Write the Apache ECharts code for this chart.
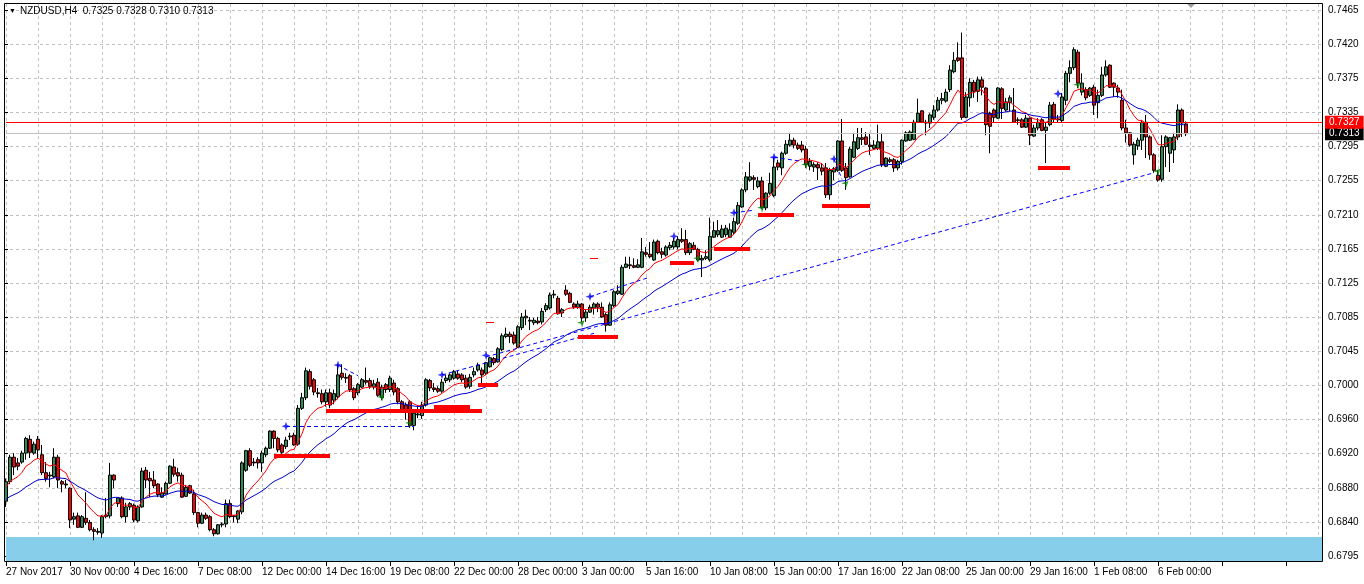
<!DOCTYPE html>
<html>
<head>
<meta charset="utf-8">
<title>NZDUSD,H4</title>
<script src="https://cdn.jsdelivr.net/npm/echarts@6.0.0/dist/echarts.min.js"></script>
<style>
  html, body { margin: 0; padding: 0; background: #fff; }
  #chart { width: 1364px; height: 584px; }
</style>
</head>
<body>
<div id="chart"></div>
<script>
// NZDUSD H4 bars, 27 Nov 2017 08:00 -> 7 Feb 2018 04:00 (one entry per bar)
var openPrices = [
  .6862,.6886,.6916,.6909,.6910,.6921,.6938,.6921,.6938,.6919,
  .6897,.6893,.6892,.6916,.6886,.6883,.6878,.6840,.6844,.6830,
  .6841,.6836,.6827,.6825,.6823,.6843,.6844,.6894,.6859,.6866,
  .6843,.6855,.6857,.6838,.6855,.6900,.6890,.6888,.6883,.6867,
  .6871,.6884,.6904,.6897,.6894,.6868,.6881,.6871,.6848,.6835,
  .6845,.6843,.6827,.6822,.6833,.6834,.6859,.6844,.6840,.6849,
  .6900,.6924,.6910,.6913,.6909,.6919,.6927,.6948,.6939,.6931,
  .6929,.6941,.6943,.6932,.6976,.6989,.7021,.7011,.6995,.6994,
  .6984,.6995,.6986,.6990,.7019,.7014,.7016,.7000,.6995,.7002,
  .7010,.7010,.7002,.7008,.6989,.7005,.6999,.7007,.7000,.6984,
  .6980,.6984,.6955,.6968,.6967,.6980,.7010,.7001,.7000,.6997,
  .7010,.7011,.7013,.7018,.7017,.7013,.7003,.7017,.7023,.7023,
  .7019,.7027,.7037,.7033,.7048,.7064,.7067,.7066,.7051,.7075,
  .7087,.7084,.7081,.7083,.7082,.7097,.7099,.7115,.7111,.7093,
  .7121,.7117,.7104,.7100,.7104,.7087,.7094,.7099,.7104,.7100,
  .7091,.7078,.7102,.7117,.7116,.7149,.7152,.7151,.7149,.7149,
  .7167,.7165,.7158,.7181,.7168,.7164,.7173,.7174,.7174,.7183,
  .7183,.7167,.7176,.7171,.7158,.7160,.7158,.7186,.7189,.7186,
  .7189,.7186,.7192,.7203,.7223,.7244,.7256,.7259,.7248,.7255,
  .7222,.7240,.7237,.7277,.7271,.7289,.7299,.7305,.7299,.7299,
  .7294,.7273,.7272,.7275,.7271,.7271,.7238,.7266,.7268,.7304,
  .7271,.7260,.7284,.7295,.7308,.7309,.7299,.7295,.7295,.7303,
  .7273,.7281,.7281,.7271,.7279,.7304,.7305,.7306,.7327,.7341,
  .7327,.7326,.7333,.7342,.7354,.7353,.7367,.7389,.7406,.7406,
  .7333,.7357,.7376,.7365,.7379,.7369,.7338,.7342,.7332,.7368,
  .7342,.7351,.7342,.7330,.7330,.7321,.7332,.7310,.7320,.7330,
  .7317,.7324,.7349,.7331,.7329,.7354,.7387,.7394,.7413,.7364,
  .7367,.7360,.7370,.7351,.7360,.7385,.7397,.7375,.7369,.7354,
  .7320,.7314,.7287,.7298,.7305,.7327,.7309,.7287,.7262,.7257,
  .7297,.7289,.7293,.7309,.7342,.7325
];
var closePrices = [
  .6886,.6916,.6904,.6905,.6921,.6939,.6922,.6932,.6925,.6897,
  .6890,.6894,.6916,.6888,.6883,.6882,.6839,.6843,.6830,.6843,
  .6836,.6827,.6825,.6824,.6843,.6845,.6894,.6888,.6866,.6843,
  .6855,.6859,.6839,.6855,.6899,.6888,.6887,.6881,.6870,.6872,
  .6884,.6905,.6895,.6893,.6867,.6879,.6872,.6848,.6835,.6845,
  .6841,.6827,.6822,.6833,.6834,.6859,.6843,.6843,.6850,.6909,
  .6924,.6906,.6909,.6909,.6921,.6927,.6948,.6939,.6925,.6922,
  .6937,.6942,.6931,.6976,.6989,.7022,.7003,.6996,.6994,.6984,
  .6995,.6980,.6994,.7017,.7014,.7013,.6999,.6989,.7005,.7011,
  .7008,.7003,.7006,.6992,.7002,.6999,.7013,.6996,.6984,.6974,
  .6974,.6955,.6970,.6969,.6980,.7011,.7001,.6999,.6997,.7008,
  .7013,.7017,.7021,.7013,.7011,.7002,.7014,.7021,.7029,.7017,
  .7032,.7038,.7032,.7049,.7065,.7067,.7064,.7056,.7076,.7088,
  .7089,.7083,.7084,.7081,.7095,.7102,.7115,.7116,.7092,.7097,
  .7116,.7106,.7100,.7104,.7087,.7094,.7100,.7104,.7100,.7088,
  .7078,.7103,.7119,.7120,.7149,.7153,.7151,.7149,.7152,.7168,
  .7165,.7162,.7180,.7167,.7165,.7174,.7176,.7181,.7183,.7181,
  .7167,.7178,.7171,.7158,.7160,.7162,.7187,.7194,.7194,.7196,
  .7197,.7195,.7205,.7225,.7244,.7260,.7260,.7257,.7255,.7222,
  .7240,.7252,.7272,.7272,.7289,.7300,.7305,.7299,.7295,.7293,
  .7275,.7279,.7275,.7271,.7267,.7238,.7268,.7270,.7304,.7268,
  .7259,.7294,.7303,.7308,.7306,.7300,.7297,.7299,.7303,.7275,
  .7283,.7279,.7271,.7279,.7305,.7314,.7315,.7327,.7338,.7327,
  .7326,.7336,.7342,.7354,.7356,.7364,.7391,.7403,.7403,.7333,
  .7358,.7376,.7365,.7379,.7370,.7324,.7322,.7333,.7369,.7344,
  .7352,.7357,.7327,.7329,.7321,.7332,.7311,.7320,.7327,.7317,
  .7321,.7348,.7331,.7330,.7358,.7387,.7394,.7416,.7375,.7375,
  .7357,.7369,.7348,.7360,.7385,.7395,.7370,.7370,.7364,.7320,
  .7314,.7299,.7300,.7305,.7327,.7309,.7287,.7268,.7256,.7297,
  .7309,.7308,.7309,.7342,.7326,.7313
];
var lowPrices = [
  .6855,.6883,.6894,.6900,.6908,.6913,.6915,.6919,.6915,.6894,
  .6886,.6879,.6890,.6878,.6873,.6878,.6829,.6833,.6829,.6829,
  .6833,.6825,.6814,.6821,.6817,.6841,.6841,.6878,.6855,.6841,
  .6836,.6851,.6836,.6836,.6854,.6878,.6867,.6878,.6867,.6866,
  .6870,.6883,.6892,.6886,.6866,.6867,.6871,.6845,.6830,.6834,
  .6839,.6825,.6819,.6821,.6830,.6830,.6841,.6836,.6835,.6846,
  .6898,.6904,.6905,.6902,.6898,.6916,.6926,.6927,.6922,.6920,
  .6926,.6937,.6930,.6930,.6974,.6986,.6999,.6992,.6989,.6981,
  .6978,.6976,.6981,.6987,.7011,.7007,.6996,.6986,.6992,.7001,
  .7005,.7000,.6999,.6990,.6986,.6995,.6996,.6992,.6981,.6971,
  .6962,.6952,.6949,.6964,.6963,.6978,.6997,.6996,.6995,.6995,
  .7007,.7008,.7011,.7011,.7008,.7000,.7000,.7014,.7021,.7005,
  .7017,.7026,.7029,.7032,.7046,.7062,.7056,.7054,.7050,.7072,
  .7078,.7072,.7078,.7079,.7079,.7094,.7097,.7111,.7091,.7088,
  .7114,.7105,.7098,.7098,.7082,.7082,.7093,.7091,.7094,.7087,
  .7070,.7077,.7100,.7115,.7115,.7148,.7147,.7148,.7148,.7148,
  .7162,.7160,.7157,.7165,.7160,.7162,.7170,.7171,.7171,.7179,
  .7164,.7164,.7170,.7156,.7137,.7158,.7156,.7185,.7186,.7185,
  .7186,.7185,.7190,.7201,.7222,.7241,.7254,.7244,.7246,.7221,
  .7219,.7238,.7235,.7268,.7262,.7287,.7297,.7295,.7293,.7290,
  .7271,.7268,.7266,.7256,.7262,.7234,.7232,.7256,.7266,.7266,
  .7244,.7259,.7283,.7293,.7299,.7299,.7287,.7293,.7293,.7272,
  .7272,.7277,.7266,.7268,.7275,.7303,.7304,.7305,.7326,.7326,
  .7311,.7320,.7330,.7340,.7349,.7351,.7364,.7387,.7401,.7330,
  .7332,.7346,.7357,.7352,.7360,.7311,.7289,.7327,.7331,.7331,
  .7340,.7340,.7326,.7324,.7320,.7320,.7299,.7309,.7317,.7316,
  .7277,.7322,.7327,.7327,.7327,.7348,.7376,.7391,.7369,.7360,
  .7354,.7358,.7336,.7332,.7358,.7383,.7369,.7358,.7357,.7317,
  .7302,.7297,.7275,.7293,.7293,.7283,.7281,.7265,.7254,.7254,
  .7272,.7266,.7277,.7305,.7309,.7310
];
var highPrices = [
  .6890,.6919,.6921,.6915,.6924,.6941,.6943,.6935,.6942,.6931,
  .6910,.6898,.6927,.6919,.6888,.6888,.6879,.6848,.6848,.6845,
  .6873,.6839,.6830,.6829,.6845,.6866,.6909,.6895,.6867,.6868,
  .6860,.6861,.6859,.6857,.6903,.6904,.6898,.6899,.6884,.6879,
  .6886,.6906,.6914,.6903,.6897,.6882,.6882,.6876,.6849,.6848,
  .6848,.6845,.6829,.6834,.6836,.6864,.6864,.6845,.6851,.6911,
  .6925,.6927,.6915,.6916,.6924,.6929,.6949,.6949,.6941,.6933,
  .6941,.6946,.6946,.6980,.6995,.7026,.7024,.7013,.7001,.6999,
  .6999,.7000,.6999,.7030,.7030,.7019,.7018,.7002,.7007,.7013,
  .7026,.7013,.7011,.7013,.7005,.7007,.7016,.7011,.7002,.6986,
  .6983,.6986,.6974,.6980,.6984,.7013,.7012,.7007,.7003,.7012,
  .7017,.7019,.7023,.7022,.7019,.7017,.7018,.7026,.7032,.7026,
  .7033,.7039,.7039,.7051,.7068,.7075,.7070,.7070,.7078,.7093,
  .7097,.7088,.7087,.7088,.7099,.7105,.7118,.7121,.7114,.7099,
  .7127,.7119,.7106,.7108,.7105,.7097,.7103,.7106,.7106,.7106,
  .7093,.7106,.7121,.7127,.7152,.7162,.7162,.7160,.7159,.7185,
  .7174,.7180,.7183,.7183,.7173,.7176,.7180,.7185,.7187,.7197,
  .7195,.7180,.7180,.7173,.7164,.7170,.7210,.7205,.7207,.7201,
  .7201,.7203,.7210,.7229,.7246,.7266,.7278,.7262,.7260,.7260,
  .7241,.7265,.7284,.7281,.7291,.7305,.7314,.7308,.7302,.7304,
  .7298,.7283,.7278,.7278,.7277,.7277,.7271,.7272,.7305,.7331,
  .7277,.7297,.7314,.7320,.7320,.7315,.7314,.7305,.7324,.7314,
  .7284,.7284,.7283,.7281,.7306,.7316,.7317,.7330,.7356,.7342,
  .7330,.7338,.7348,.7358,.7363,.7368,.7397,.7413,.7425,.7437,
  .7364,.7381,.7379,.7383,.7383,.7370,.7340,.7344,.7370,.7370,
  .7357,.7360,.7369,.7333,.7332,.7336,.7333,.7324,.7332,.7332,
  .7327,.7352,.7352,.7336,.7363,.7390,.7403,.7419,.7416,.7387,
  .7370,.7370,.7373,.7367,.7395,.7403,.7398,.7376,.7373,.7367,
  .7330,.7315,.7303,.7308,.7330,.7336,.7311,.7289,.7268,.7311,
  .7311,.7309,.7314,.7349,.7344,.7328
];

// time scale labels, one every 16 bars
var timeLabels = ['27 Nov 2017', '30 Nov 00:00', '4 Dec 16:00', '7 Dec 08:00', '12 Dec 00:00',
  '14 Dec 16:00', '19 Dec 08:00', '22 Dec 00:00', '28 Dec 00:00', '3 Jan 00:00', '5 Jan 16:00',
  '10 Jan 08:00', '15 Jan 00:00', '17 Jan 16:00', '22 Jan 08:00', '25 Jan 00:00', '29 Jan 16:00',
  '1 Feb 08:00', '6 Feb 00:00'];
// price scale labels, bottom to top
var priceLabels = ['0.6795', '0.6840', '0.6880', '0.6920', '0.6960', '0.7000', '0.7045', '0.7085',
  '0.7125', '0.7165', '0.7210', '0.7255', '0.7295', '0.7335', '0.7375', '0.7420', '0.7465'];

var askPrice = 0.7327, bidPrice = 0.7313;
var zoneTop = 0.6818;
// moving averages values at the first bar
var fastMaStart = 0.6878, slowMaStart = 0.6863;

// red support levels: [fromBar, toBar, price]
var levelSegments = [
  [67, 81, 0.6918], [80, 119, 0.6973], [107, 116, 0.6978], [118, 123, 0.7005],
  [143, 153, 0.7064], [166, 172, 0.7154], [177, 186, 0.7172], [188, 197, 0.7214],
  [204, 216, 0.7225], [258, 266, 0.7271]
];
var levelTicks = [[120, 122, 0.7081], [146, 148, 0.7160]];
// blue dotted trend lines: [fromBar, fromPrice, toBar, toPrice]
var trendLines = [
  [70, 0.6954, 102, 0.6954],
  [83, 0.7029, 88, 0.7016],
  [109, 0.7017, 147, 0.7068],
  [120, 0.7039, 287, 0.7265],
  [146, 0.7113, 161, 0.7137],
  [182, 0.7216, 187, 0.7219],
  [192, 0.7284, 199, 0.7279],
  [207, 0.7282, 209, 0.7257]
];
// blue fractal marks and green signal marks: [bar, price]
var fractalMarks = [[70, 0.6954], [83, 0.7029], [109, 0.7017], [120, 0.7041], [146, 0.7113],
  [167, 0.7187], [182, 0.7216], [192, 0.7284], [207, 0.7282], [263, 0.7362]];
var signalMarks = [[94, 0.6990], [101, 0.6958], [144, 0.7081], [173, 0.7160], [189, 0.7222],
  [200, 0.7275], [210, 0.7252], [268, 0.7373], [288, 0.7267]];

var chart = echarts.init(document.getElementById('chart'));

var slots = 330; // bars + empty shift on the right
var cats = [];
for (var i = 0; i < slots; i++) cats.push(i);

var candles = openPrices.map(function (o, i) {
  return [o, closePrices[i], lowPrices[i], highPrices[i]];
});

function ema(values, period, start) {
  var k = 2 / (period + 1), prev = start, out = [];
  for (var i = 0; i < values.length; i++) {
    prev = prev + k * (values[i] - prev);
    out.push(+prev.toFixed(5));
  }
  return out;
}
var fastMa = ema(closePrices, 10, fastMaStart);
var slowMa = ema(closePrices, 30, slowMaStart);

var priceTop = 0.74721, priceBottom = 0.67874;
var font = '"Liberation Sans", Arial, sans-serif';
var gridColor = '#c0c0c0';

var option = {
  animation: false,
  backgroundColor: '#fff',
  grid: [
    { left: 6, top: 4, width: 1316, height: 558 },
    { left: 4, top: 10, width: 1319, height: 546 }
  ],
  xAxis: [
    {
      type: 'category', gridIndex: 0, data: cats, boundaryGap: false,
      axisLine: { show: false },
      axisTick: { show: true, interval: 15, length: 4, lineStyle: { color: '#000' } },
      axisLabel: {
        interval: 15, align: 'left', margin: 5, fontSize: 10, color: '#000', fontFamily: font,
        formatter: function (v, idx) { return timeLabels[idx / 16] || ''; }
      },
      splitLine: { show: true, interval: 7, lineStyle: { color: gridColor, type: [3, 3] } }
    },
    { type: 'value', gridIndex: 1, min: 0, max: 1, show: false }
  ],
  yAxis: [
    { type: 'value', gridIndex: 0, min: priceBottom, max: priceTop, show: false },
    {
      type: 'value', gridIndex: 1, position: 'right', min: 0, max: 16, interval: 1,
      axisLine: { show: false },
      axisTick: { show: true, length: 4, lineStyle: { color: '#000' } },
      axisLabel: {
        margin: 5, fontSize: 10, color: '#000', fontFamily: font,
        formatter: function (v) { return priceLabels[v] || ''; }
      },
      splitLine: { show: true, lineStyle: { color: gridColor, type: [3, 3] } }
    }
  ],
  graphic: [
    { type: 'rect', silent: true, z: 50,
      shape: { x: 4.5, y: 3.5, width: 1318, height: 558 },
      style: { fill: null, stroke: '#000', lineWidth: 1 } },
    { type: 'polygon', silent: true, z: 50,
      shape: { points: [[1187, 4], [1195, 4], [1191, 8]] },
      style: { fill: '#a0a0a0' } },
    { type: 'text', silent: true, z: 50, left: 9, top: 8,
      style: { text: '\u25BC', fontSize: 7, fill: '#000', fontFamily: font } },
    { type: 'text', silent: true, z: 50, left: 20, top: 6,
      style: { text: 'NZDUSD,H4  0.7325 0.7328 0.7310 0.7313', fontSize: 10, fill: '#000', fontFamily: font } }
  ],
  series: [
    {
      type: 'candlestick', xAxisIndex: 0, yAxisIndex: 0, data: candles,
      barWidth: 3, clip: false, z: 2,
      itemStyle: {
        color: '#2e8b57', color0: '#ff0000',
        borderColor: '#000', borderColor0: '#000', borderColorDoji: '#000', borderWidth: 1
      },
      markArea: {
        silent: true,
        itemStyle: { color: '#87ceeb' },
        data: [[{ xAxis: 0, yAxis: zoneTop }, { xAxis: slots - 1, yAxis: priceBottom }]]
      }
    },
    {
      type: 'line', data: fastMa, symbol: 'none', smooth: false,
      lineStyle: { color: '#ff0000', width: 1 }, z: 3,
      markLine: {
        silent: true, symbol: ['none', 'none'], precision: 4,
        label: { show: true, position: 'end', distance: 3, color: '#fff', fontSize: 10,
          fontFamily: font, padding: [2, 4, 1, 4] },
        data: [
          { yAxis: bidPrice, lineStyle: { color: '#c0c0c0', type: 'solid', width: 1 },
            label: { formatter: bidPrice.toFixed(4), backgroundColor: '#000' } },
          { yAxis: askPrice, lineStyle: { color: '#ff0000', type: 'solid', width: 1 },
            label: { formatter: askPrice.toFixed(4), backgroundColor: '#ff0000' } }
        ]
      }
    },
    {
      type: 'line', data: slowMa, symbol: 'none', smooth: false,
      lineStyle: { color: '#0000cd', width: 1 }, z: 3
    },
    {
      type: 'lines', coordinateSystem: 'cartesian2d', z: 4,
      lineStyle: { color: '#0000ff', width: 1, type: [4, 3], opacity: 1 },
      data: trendLines.map(function (t) { return { coords: [[t[0], t[1]], [t[2], t[3]]] }; })
    },
    {
      type: 'lines', coordinateSystem: 'cartesian2d', z: 4,
      lineStyle: { color: '#ff0000', width: 4, opacity: 1 },
      data: levelSegments.map(function (s) { return { coords: [[s[0], s[2]], [s[1], s[2]]] }; })
    },
    {
      type: 'lines', coordinateSystem: 'cartesian2d', z: 4,
      lineStyle: { color: '#ff0000', width: 1, opacity: 1 },
      data: levelTicks.map(function (s) { return { coords: [[s[0], s[2]], [s[1], s[2]]] }; })
    },
    {
      type: 'scatter', data: fractalMarks, z: 5,
      symbol: 'path://M5,0 L6.3,3.7 L10,5 L6.3,6.3 L5,10 L3.7,6.3 L0,5 L3.7,3.7 Z',
      symbolSize: 9, itemStyle: { color: '#0000ff' }
    },
    {
      type: 'scatter', data: signalMarks, z: 5,
      symbol: 'path://M0,0 L10,5 L0,10 L3,5 Z', symbolRotate: 45,
      symbolSize: 7, itemStyle: { color: '#008000' }
    }
  ]
};

chart.setOption(option);
</script>
</body>
</html>
